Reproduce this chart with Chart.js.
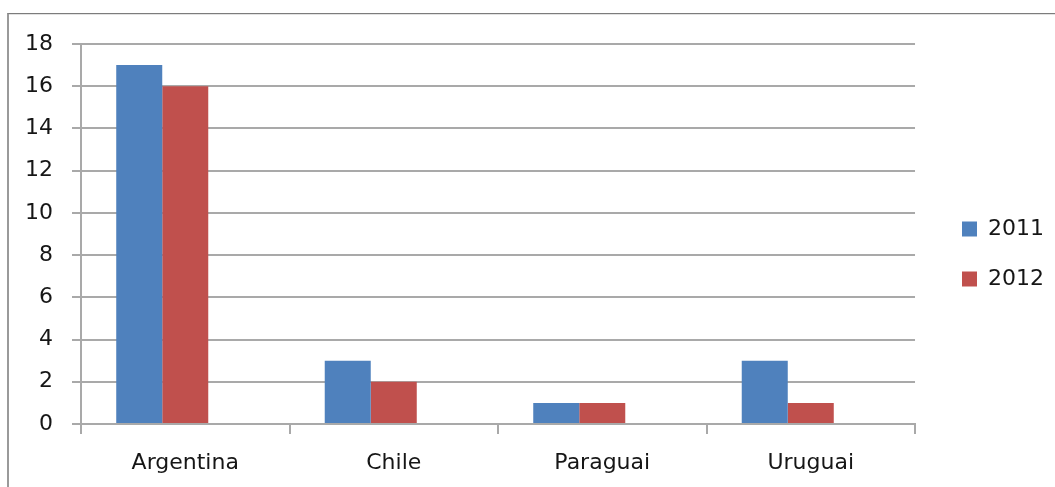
<!DOCTYPE html>
<html>
<head>
<meta charset="utf-8">
<title>2011 – 2012</title>
<script src="https://cdn.jsdelivr.net/npm/chart.js@4/dist/chart.umd.min.js"></script>
<style>
  html, body { margin: 0; padding: 0; background: #ffffff; }
  #wrap { position: relative; width: 1055px; height: 487px; overflow: hidden; }
  #frame {
    position: absolute; left: 7px; top: 13px; right: 0; bottom: 0;
    border-left: 2px solid #9a9a9a; border-top: 1px solid #7c7c7c;
    box-shadow: inset 0 1px 0 #e2e2e2;
  }
  canvas { position: absolute; left: 0; top: 0; }
</style>
</head>
<body>
<div id="wrap">
  <div id="frame"></div>
  <canvas id="chart" width="1055" height="487"></canvas>
</div>
<script>
// Categories and series
const countries = ['Argentina', 'Chile', 'Paraguai', 'Uruguai'];
const seriesLabels = ['2011', '2012'];
const values2011 = [17, 3, 1, 3];
const values2012 = [16, 2, 1, 1];
// third cluster slot (series without values), keeps each pair left of the category centre
const valuesEmpty = [null, null, null, null];
// value axis
const yMin = 0;
const yMax = 18;
const yStep = 2;

const FONT = { family: "'DejaVu Sans', sans-serif", size: 22 };
const TEXT = '#161616';
const GRID = '#a9a9a9';

// Moves the legend column away from the plot area and down to the middle of the chart
const legendPlacement = {
  id: 'legendPlacement',
  afterLayout(chart) {
    const lg = chart.legend;
    if (!lg) return;
    const pad = lg.options.labels.padding;
    const gap = 47;        // plot edge to legend swatch
    const itemsTop = 218;  // top of the first legend row
    const dx = (chart.chartArea.right + gap) - (lg.left + pad);
    const dy = (itemsTop - pad) - lg.top;
    lg.left += dx; lg.right += dx;
    lg.top += dy; lg.bottom += dy;
  }
};

new Chart(document.getElementById('chart'), {
  type: 'bar',
  data: {
    labels: countries,
    datasets: [
      { label: seriesLabels[0], data: values2011, backgroundColor: '#4F81BD' },
      { label: seriesLabels[1], data: values2012, backgroundColor: '#C0504D' },
      { label: '', data: valuesEmpty, backgroundColor: 'rgba(0,0,0,0)' }
    ]
  },
  options: {
    responsive: false,
    animation: false,
    devicePixelRatio: 1,
    categoryPercentage: 0.662,
    barPercentage: 1.0,
    layout: { padding: { top: 44, right: 20, bottom: 0, left: 0 } },
    plugins: {
      tooltip: { enabled: false },
      legend: {
        position: 'right',
        align: 'start',
        labels: {
          font: FONT,
          color: TEXT,
          boxWidth: 15,
          boxHeight: 15,
          padding: 28,
          filter: item => item.text !== ''
        }
      }
    },
    scales: {
      x: {
        grid: { offset: true, drawOnChartArea: false, drawTicks: true, tickLength: 10, color: GRID, lineWidth: 2 },
        border: { color: GRID, width: 2 },
        ticks: { font: FONT, color: TEXT, padding: 16, maxRotation: 0 },
        afterFit: s => { s.height = 63; }
      },
      y: {
        min: yMin,
        max: yMax,
        grid: { color: GRID, lineWidth: 2, tickLength: 9 },
        border: { color: GRID, width: 2 },
        ticks: { stepSize: yStep, font: FONT, color: TEXT, padding: 19 },
        afterFit: s => { s.width = 81; }
      }
    }
  },
  plugins: [legendPlacement]
});
</script>
</body>
</html>
